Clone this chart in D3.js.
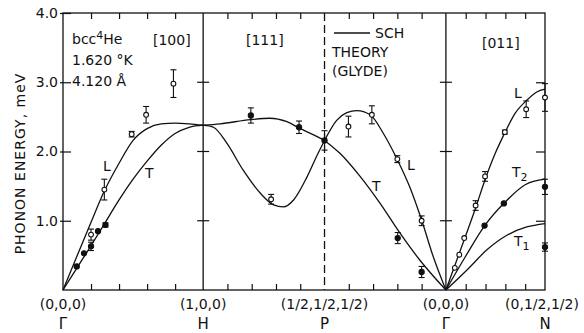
<!DOCTYPE html>
<html>
<head>
<meta charset="utf-8">
<script src="https://cdn.jsdelivr.net/npm/d3@7"></script>
<style>
  body { margin: 0; background: #fff; }
  text { font-family: "DejaVu Sans", sans-serif; fill: #111; }
</style>
</head>
<body>
<div id="chart"></div>
<script>
// path through the zone: segment lengths in units of 2π/a
const segLengths = [1, Math.sqrt(3) / 2, Math.sqrt(3) / 2, Math.sqrt(2) / 2];
const pointLabels = ["(0,0,0)", "(1,0,0)", "(1/2,1/2,1/2)", "(0,0,0)", "(0,1/2,1/2)"];
const pointSymbols = ["Γ", "H", "P", "Γ", "N"];
const yTicks = [1, 2, 3, 4];

// SCH theory curves: [fraction along segment, energy meV]
const ghL = [[0, 0], [0.1, 0.49], [0.2, 0.98], [0.3, 1.45], [0.4, 1.83], [0.5, 2.16], [0.6, 2.33], [0.7, 2.40], [0.8, 2.41], [0.9, 2.40], [1, 2.38]];
const ghT = [[0, 0], [0.1, 0.32], [0.2, 0.64], [0.3, 0.97], [0.4, 1.30], [0.5, 1.60], [0.6, 1.86], [0.7, 2.09], [0.8, 2.26], [0.9, 2.35], [1, 2.38]];
const hpUpper = [[0, 2.38], [0.14, 2.40], [0.39, 2.46], [0.55, 2.48], [0.69, 2.43], [0.8, 2.33], [0.91, 2.24], [1, 2.16]];
const hpLower = [[0, 2.38], [0.085, 2.35], [0.195, 2.12], [0.33, 1.73], [0.47, 1.40], [0.58, 1.23], [0.66, 1.20], [0.745, 1.30], [0.855, 1.63], [0.94, 1.95], [1, 2.16]];
const pgL = [[0, 2.16], [0.1, 2.45], [0.184, 2.56], [0.266, 2.59], [0.376, 2.53], [0.485, 2.26], [0.595, 1.90], [0.704, 1.48], [0.8, 1.01], [0.896, 0.48], [1, 0]];
const pgT = [[0, 2.16], [0.129, 1.97], [0.293, 1.64], [0.458, 1.25], [0.622, 0.82], [0.786, 0.43], [1, 0]];
const gnL = [[0, 0], [0.196, 0.77], [0.296, 1.17], [0.397, 1.60], [0.497, 1.97], [0.598, 2.28], [0.698, 2.55], [0.816, 2.74], [0.917, 2.86], [1, 2.90]];
const gnT2 = [[0, 0], [0.196, 0.48], [0.397, 0.94], [0.598, 1.27], [0.8, 1.52], [1, 1.60]];
const gnT1 = [[0, 0], [0.213, 0.29], [0.414, 0.58], [0.615, 0.79], [0.816, 0.91], [1, 0.96]];

// measured points: [fraction, energy, error bar half-height]
const ghOpen = [[0.2, 0.80, 0.08], [0.295, 1.45, 0.15], [0.49, 2.25, 0.04], [0.593, 2.53, 0.12], [0.788, 2.98, 0.2]];
const ghFilled = [[0.098, 0.34, 0], [0.15, 0.53, 0], [0.2, 0.63, 0.06], [0.25, 0.85, 0], [0.303, 0.94, 0.03]];
const hpOpen = [[0.56, 1.31, 0.07]];
const hpFilled = [[0.393, 2.52, 0.11], [0.79, 2.35, 0.09], [1, 2.16, 0.14]];
const pgOpen = [[0.197, 2.36, 0.15], [0.39, 2.53, 0.13], [0.60, 1.89, 0.05], [0.80, 1.00, 0.07]];
const pgFilled = [[0.603, 0.75, 0.08], [0.80, 0.26, 0.08]];
const gnOpen = [[0.09, 0.32, 0], [0.135, 0.51, 0], [0.185, 0.75, 0], [0.30, 1.22, 0.07], [0.395, 1.64, 0.07], [0.595, 2.28, 0.03], [0.81, 2.61, 0.12], [1, 2.78, 0.2]];
const gnFilled = [[0.39, 0.93, 0], [0.585, 1.25, 0], [1, 1.49, 0.11], [1, 0.62, 0.06]];

const W = 584, H = 333;
const m = {left: 63, right: 545, top: 13, bottom: 290};

const svg = d3.select("#chart").append("svg")
  .attr("width", W).attr("height", H);

// cumulative start of each segment
const segStart = segLengths.map((d, i) => d3.sum(segLengths.slice(0, i)));
const total = d3.sum(segLengths);
const bounds = segStart.concat([total]);

const x = d3.scaleLinear().domain([0, total]).range([m.left, m.right]);
const y = d3.scaleLinear().domain([0, 4]).range([m.bottom, m.top]);
const px = (seg, t) => x(segStart[seg] + t * segLengths[seg]);

// minor ticks: five steps per segment
const minor = [];
segLengths.forEach((len, i) => {
  for (let k = 1; k < 5; k++) minor.push(segStart[i] + len * k / 5);
});

// frame
svg.append("rect")
  .attr("x", m.left).attr("y", m.top)
  .attr("width", m.right - m.left).attr("height", m.bottom - m.top)
  .attr("fill", "none").attr("stroke", "#111").attr("stroke-width", 1.3);

// top and bottom ticks
svg.append("g")
  .attr("transform", `translate(0,${m.top})`)
  .call(d3.axisTop(x).tickValues(minor).tickSize(-6).tickFormat(""))
  .call(g => g.select(".domain").remove());
svg.append("g")
  .attr("transform", `translate(0,${m.bottom})`)
  .call(d3.axisBottom(x).tickValues(minor).tickSize(-6).tickFormat(""))
  .call(g => g.select(".domain").remove());

// left axis
const yAxis = svg.append("g")
  .attr("transform", `translate(${m.left},0)`)
  .call(d3.axisLeft(y).tickValues(yTicks).tickSize(-8).tickPadding(5).tickFormat(d3.format(".1f")))
  .call(g => g.select(".domain").remove());
yAxis.selectAll("line").attr("x1", -3);
yAxis.selectAll("text").style("font-size", "14px").style("font-family", "DejaVu Sans, sans-serif");

// right axis ticks
svg.append("g")
  .attr("transform", `translate(${m.right},0)`)
  .call(d3.axisRight(y).tickValues([1, 2, 3]).tickSize(-9).tickFormat(""))
  .call(g => g.select(".domain").remove());

svg.selectAll(".tick line").attr("stroke", "#111").attr("stroke-width", 1.2);

// vertical lines at H, P, Γ
[1, 2, 3].forEach(i => {
  svg.append("line")
    .attr("x1", x(bounds[i])).attr("x2", x(bounds[i]))
    .attr("y1", m.top).attr("y2", m.bottom)
    .attr("stroke", "#111").attr("stroke-width", 1.3)
    .attr("stroke-dasharray", i === 2 ? "8,4" : null);
  if (i !== 2) {
    svg.selectAll(null)
      .data([1, 2, 3])
      .enter().append("line")
      .attr("x1", x(bounds[i]) - 6).attr("x2", x(bounds[i]) + 6)
      .attr("y1", d => y(d)).attr("y2", d => y(d))
      .attr("stroke", "#111").attr("stroke-width", 1.2);
  }
});

// bottom labels
svg.selectAll(".plabel")
  .data(pointLabels)
  .enter().append("text")
  .attr("class", "plabel")
  .attr("x", (d, i) => x(bounds[i]) - (i === 4 ? 3 : 0))
  .attr("y", 309)
  .attr("text-anchor", "middle")
  .style("font-size", "14px")
  .text(d => d);
svg.selectAll(".psym")
  .data(pointSymbols)
  .enter().append("text")
  .attr("class", "psym")
  .attr("x", (d, i) => x(bounds[i]))
  .attr("y", 329)
  .attr("text-anchor", "middle")
  .style("font-size", "15px")
  .text(d => d);

// y axis title
svg.append("text")
  .attr("transform", `translate(25,${(m.top + m.bottom) / 2 + 12}) rotate(-90)`)
  .attr("text-anchor", "middle")
  .style("font-size", "14px")
  .style("letter-spacing", "1px")
  .text("PHONON ENERGY, meV");

// theory curves
const line = d3.line()
  .x(d => d[0]).y(d => d[1])
  .curve(d3.curveMonotoneX);
const curves = [
  [0, ghL], [0, ghT], [1, hpUpper], [1, hpLower],
  [2, pgL], [2, pgT], [3, gnL], [3, gnT2], [3, gnT1]
];
svg.selectAll(".curve")
  .data(curves)
  .enter().append("path")
  .attr("class", "curve")
  .attr("d", c => line(c[1].map(p => [px(c[0], p[0]), y(p[1])])))
  .attr("fill", "none")
  .attr("stroke", "#111")
  .attr("stroke-width", 1.3);

// measured points
const points = [];
[[0, ghOpen, true], [0, ghFilled, false], [1, hpOpen, true], [1, hpFilled, false],
 [2, pgOpen, true], [2, pgFilled, false], [3, gnOpen, true], [3, gnFilled, false]]
  .forEach(([seg, arr, open]) => arr.forEach(p => points.push({seg, t: p[0], e: p[1], err: p[2], open})));

const pts = svg.selectAll(".pt")
  .data(points)
  .enter().append("g")
  .attr("class", "pt")
  .attr("transform", d => `translate(${px(d.seg, d.t)},0)`);

pts.filter(d => d.err > 0).each(function(d) {
  const g = d3.select(this);
  const y1 = y(d.e + d.err), y2 = y(d.e - d.err);
  g.append("line").attr("y1", y1).attr("y2", y2);
  g.append("line").attr("x1", -3).attr("x2", 3).attr("y1", y1).attr("y2", y1);
  g.append("line").attr("x1", -3).attr("x2", 3).attr("y1", y2).attr("y2", y2);
  g.selectAll("line").attr("stroke", "#111").attr("stroke-width", 1.1);
});

pts.append("circle")
  .attr("cy", d => y(d.e))
  .attr("r", d => d.open ? 2.4 : 2.6)
  .attr("fill", d => d.open ? "#fff" : "#111")
  .attr("stroke", "#111")
  .attr("stroke-width", 1.1);

// annotations
const notes = [
  {x: 72, y: 65, t: "1.620 °K"},
  {x: 72, y: 86, t: "4.120 Å"},
  {x: 153, y: 45, t: "[100]"},
  {x: 246, y: 45, t: "[111]"},
  {x: 482, y: 48, t: "[011]"},
  {x: 375, y: 38, t: "SCH"},
  {x: 332, y: 57, t: "THEORY"},
  {x: 332, y: 76, t: "(GLYDE)"},
  {x: 103, y: 171, t: "L"},
  {x: 145, y: 178, t: "T"},
  {x: 407, y: 170, t: "L"},
  {x: 372, y: 191, t: "T"},
  {x: 514, y: 98, t: "L"}
];
svg.selectAll(".note")
  .data(notes)
  .enter().append("text")
  .attr("class", "note")
  .attr("x", d => d.x).attr("y", d => d.y)
  .style("font-size", "14px")
  .text(d => d.t);

const he = svg.append("text").attr("x", 72).attr("y", 44).style("font-size", "14px");
he.append("tspan").text("bcc");
he.append("tspan").attr("dy", -5).style("font-size", "11px").text("4");
he.append("tspan").attr("dy", 5).text("He");

const t2 = svg.append("text").attr("x", 512).attr("y", 177).style("font-size", "14px");
t2.append("tspan").text("T");
t2.append("tspan").attr("dy", 4).style("font-size", "11px").text("2");
const t1 = svg.append("text").attr("x", 514).attr("y", 246).style("font-size", "14px");
t1.append("tspan").text("T");
t1.append("tspan").attr("dy", 4).style("font-size", "11px").text("1");

// legend line
svg.append("line")
  .attr("x1", 334).attr("x2", 370).attr("y1", 33).attr("y2", 33)
  .attr("stroke", "#111").attr("stroke-width", 1.3);
</script>
</body>
</html>
